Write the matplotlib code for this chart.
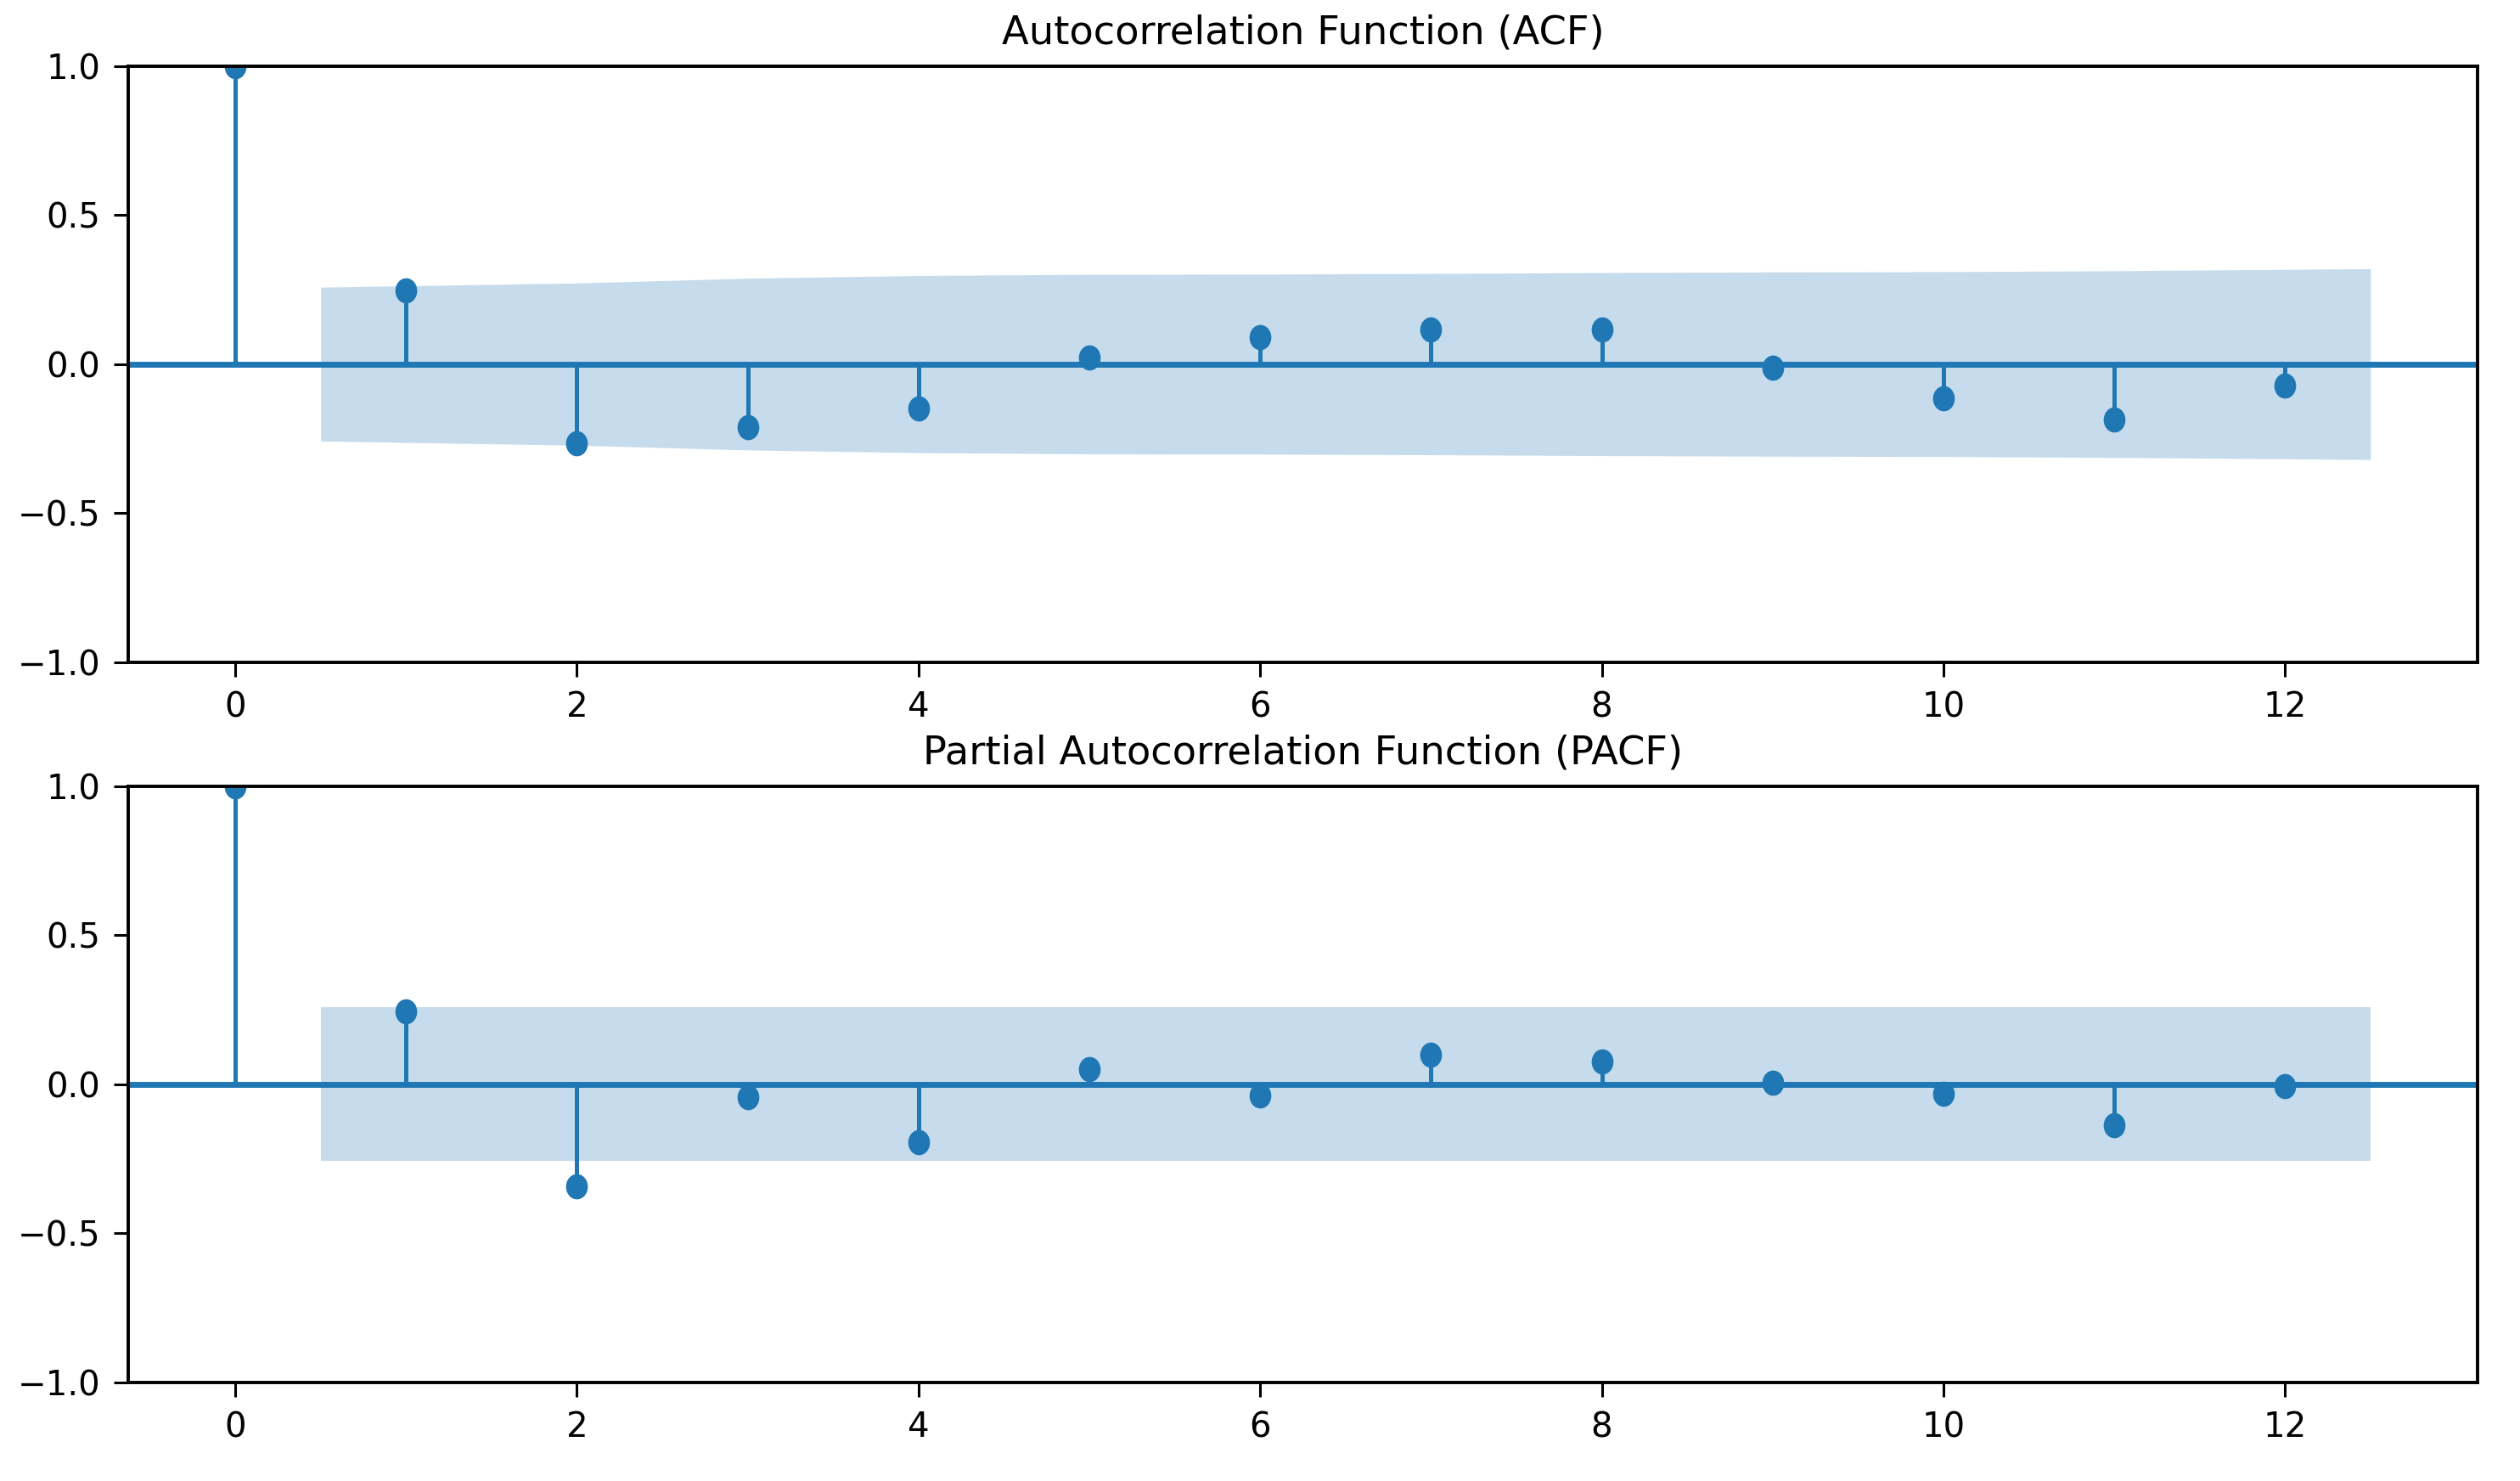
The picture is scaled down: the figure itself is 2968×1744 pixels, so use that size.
import numpy as np
import matplotlib
matplotlib.use("Agg")
import matplotlib.pyplot as plt
from matplotlib.path import Path
from matplotlib.markers import MarkerStyle

# ---- data ----
lags = list(range(0, 13))
acf_values = [1.0, 0.247, -0.266, -0.211, -0.148, 0.021, 0.090, 0.116, 0.116, -0.011, -0.116, -0.186, -0.072]
acf_band = [0.258, 0.272, 0.288, 0.297, 0.301, 0.302, 0.304, 0.307, 0.309, 0.310, 0.313, 0.320]  # lags 1..12
pacf_values = [1.0, 0.245, -0.343, -0.043, -0.194, 0.051, -0.038, 0.100, 0.076, 0.006, -0.033, -0.138, -0.005]
pacf_band = [0.258] * 12  # lags 1..12
titles = ["Autocorrelation Function (ACF)", "Partial Autocorrelation Function (PACF)"]
yticks = [-1.0, -0.5, 0.0, 0.5, 1.0]

plt.rcParams['font.family'] = ['DejaVu Sans']
DPI = 200
fig = plt.figure(figsize=(2968 / DPI, 1744 / DPI), dpi=DPI)

# slightly tall elliptical marker (the reference is a little stretched vertically)
circ = Path.unit_circle()
ell = Path(circ.vertices * np.array([0.85, 1.0]), circ.codes)
marker = MarkerStyle(ell)

C0 = '#1f77b4'
positions = [
    [0.051, 0.5528, 0.932, 0.4027],
    [0.051, 0.0665, 0.932, 0.4028],
]

for pos, vals, band, title in zip(positions, [acf_values, pacf_values], [acf_band, pacf_band], titles):
    ax = fig.add_axes(pos)
    x = np.array(lags, dtype=float)
    v = np.array(vals)
    ax.vlines(x, 0, v, colors=C0, linewidth=1.8)
    ax.plot(x, v, linestyle='none', marker=marker, markersize=9.7, color=C0)
    ax.axhline(0, color=C0, linewidth=2.5)
    bx = x[1:].copy()
    bx[0] -= 0.5
    bx[-1] += 0.5
    b = np.array(band)
    ax.fill_between(bx, -b, b, color=C0, alpha=0.25, linewidth=0)
    ax.set_ylim(-1, 1)
    ax.set_yticks(yticks)
    ax.set_xticks([0, 2, 4, 6, 8, 10, 12])
    ax.set_title(title, fontsize=16.7, pad=9.5)
    ax.tick_params(axis='both', labelsize=14.5, length=6, width=1.1, pad=6)
    for s in ax.spines.values():
        s.set_linewidth(1.4)

fig.savefig('out.png', dpi=DPI)
